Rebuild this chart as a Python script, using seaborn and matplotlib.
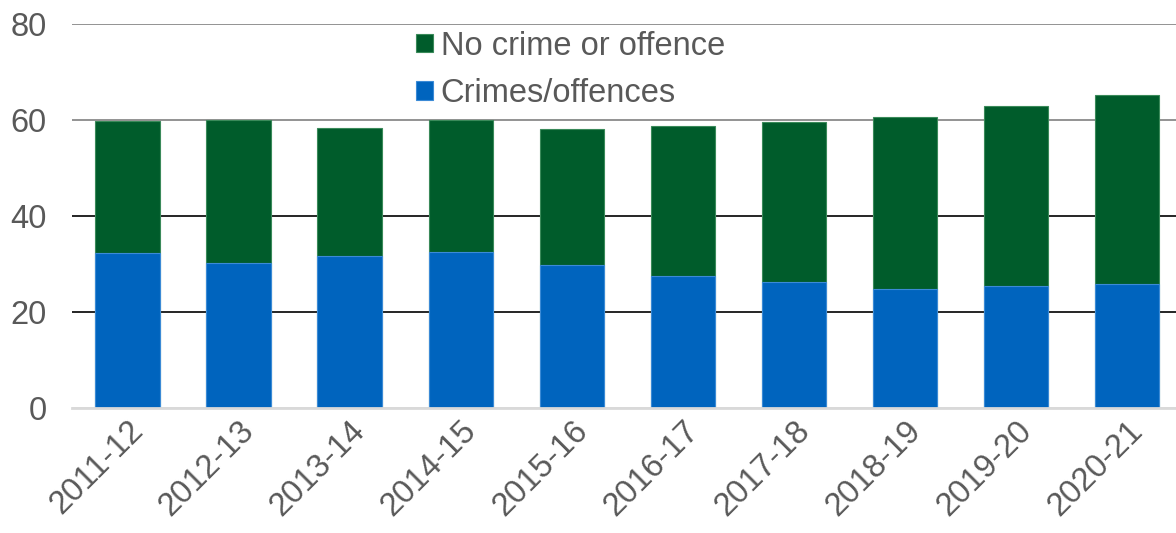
import numpy as np
import pandas as pd
import matplotlib
matplotlib.use('Agg')
import matplotlib.pyplot as plt
import seaborn as sns

sns.set_theme(style="white")
plt.rcParams['font.family'] = ['Liberation Sans', 'DejaVu Sans']

# values
years = ['2011-12', '2012-13', '2013-14', '2014-15', '2015-16',
         '2016-17', '2017-18', '2018-19', '2019-20', '2020-21']
crimes = [32.3, 30.2, 31.6, 32.5, 29.8, 27.5, 26.2, 24.8, 25.4, 25.8]
totals = [59.8, 60.1, 58.4, 60.0, 58.1, 58.8, 59.5, 60.6, 62.9, 65.2]

BLUE = '#0064BE'
GREEN = '#005C2B'
TEXT = '#595959'
FS = 23.5

df = pd.DataFrame({'year': years, 'crimes': crimes, 'total': totals})

fig = plt.figure(figsize=(11.76, 5.33), dpi=100)
ax = fig.add_axes([0.0612, 0.2345, 0.9388, 0.7205])

# total bar first (green), crimes drawn over it (blue)
sns.barplot(data=df, x='year', y='total', color=GREEN, width=0.58,
            edgecolor='#3a8a5a', linewidth=0.8, saturation=1, ax=ax,
            label='No crime or offence')
sns.barplot(data=df, x='year', y='crimes', color=BLUE, width=0.58,
            edgecolor='#3b8ad6', linewidth=0.8, saturation=1, ax=ax,
            label='Crimes/offences')

ax.set_ylim(0, 80)
ax.set_xlim(-0.5, 9.44)
ax.set_yticks([0, 20, 40, 60, 80])
ax.set_xlabel('')
ax.set_ylabel('')
ax.set_axisbelow(True)
ax.yaxis.grid(True, linewidth=1.2)
for gl, c in zip(ax.get_ygridlines(), ['#D9D9D9', 'black', 'black', '#808080', '#808080']):
    gl.set_color(c)
for s in ['top', 'right', 'left']:
    ax.spines[s].set_visible(False)
ax.spines['bottom'].set_color('#D9D9D9')
ax.spines['bottom'].set_linewidth(2)

ax.tick_params(axis='y', labelsize=FS, labelcolor=TEXT, length=0, pad=18)
ax.tick_params(axis='x', labelsize=FS, labelcolor=TEXT, length=0, pad=5)
plt.setp(ax.get_xticklabels(), rotation=45, ha='right', rotation_mode='anchor')

leg = ax.legend(loc='upper left', bbox_to_anchor=(0.30, 1.017), frameon=False,
                fontsize=FS, labelcolor=TEXT, handlelength=0.5, handleheight=0.5,
                handletextpad=0.25, labelspacing=0.5, borderaxespad=0)

fig.savefig('out.png', dpi=100, facecolor='white')
